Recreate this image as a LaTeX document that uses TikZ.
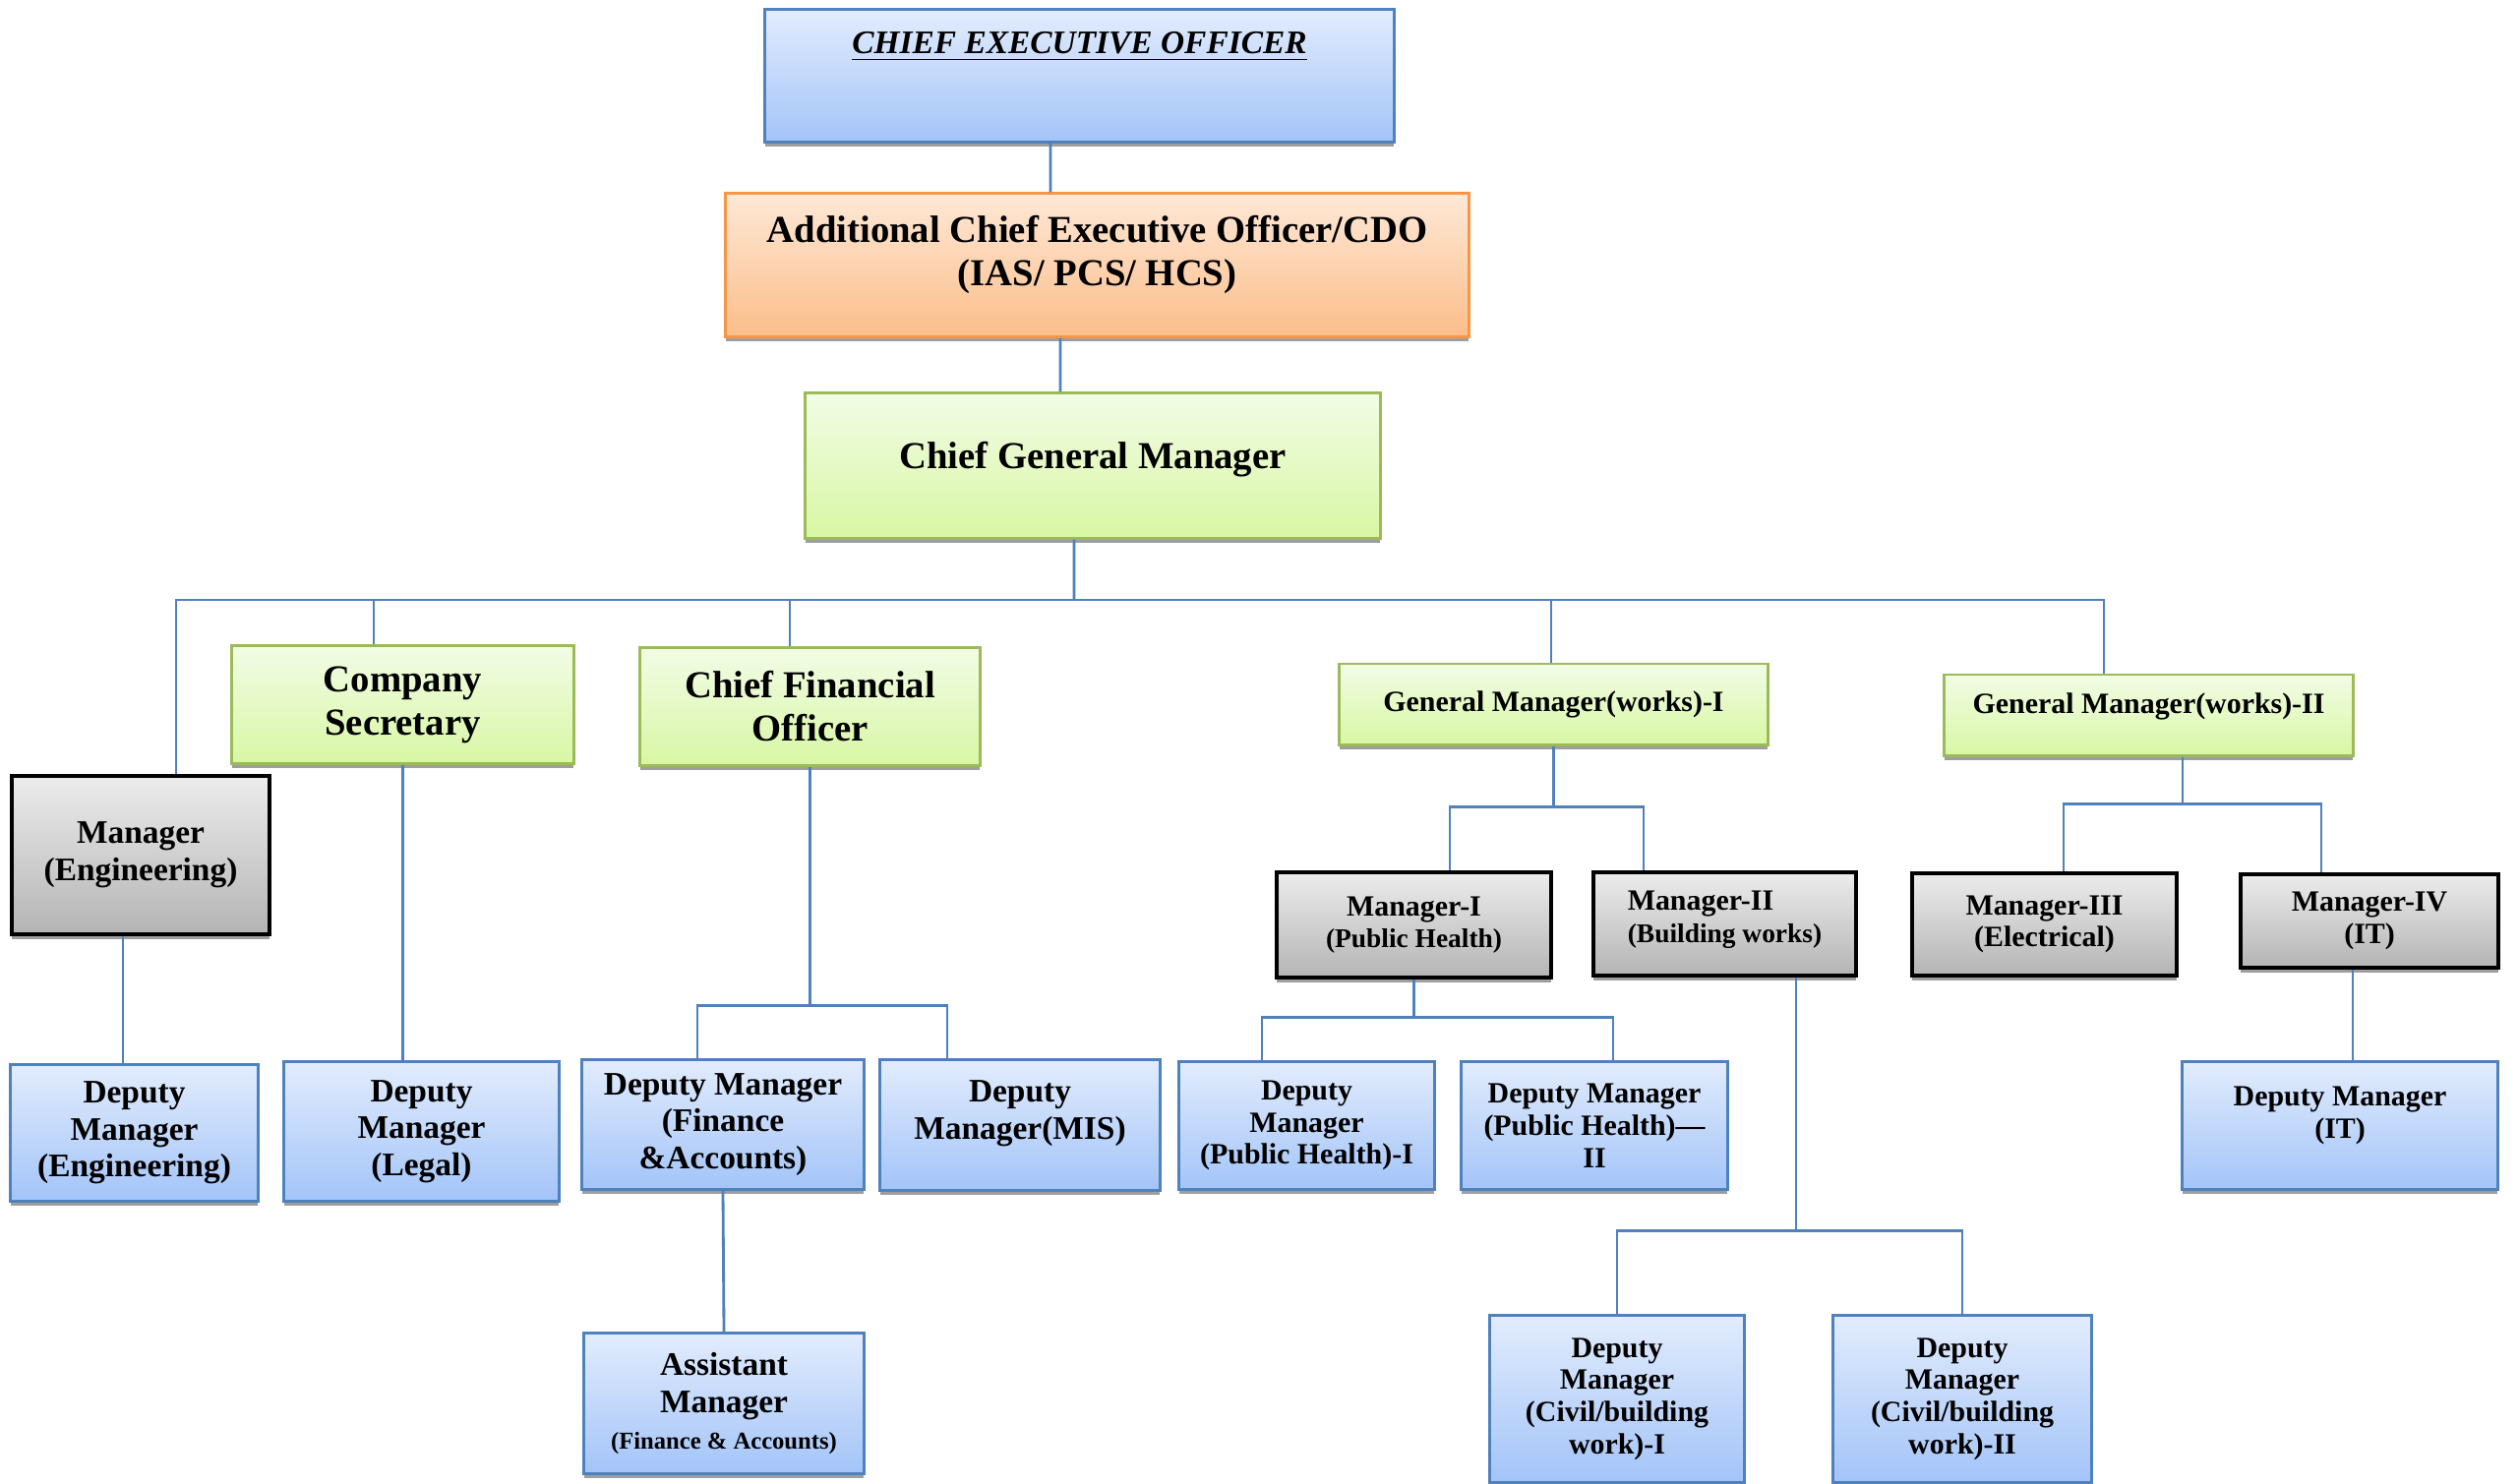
\documentclass[tikz,border=0pt]{standalone}
\usepackage{fontspec}
\setmainfont{Liberation Serif}
\usetikzlibrary{shadows}

\definecolor{linkblue}{RGB}{79, 129, 189}
\definecolor{blueedge}{RGB}{79, 129, 189}
\definecolor{bluetop}{RGB}{226, 236, 253}
\definecolor{bluebot}{RGB}{163, 196, 248}
\definecolor{greenedge}{RGB}{155, 187, 89}
\definecolor{greentop}{RGB}{242, 252, 230}
\definecolor{greenbot}{RGB}{216, 247, 164}
\definecolor{orangeedge}{RGB}{247, 150, 70}
\definecolor{orangetop}{RGB}{254, 232, 214}
\definecolor{orangebot}{RGB}{251, 190, 138}
\definecolor{greytop}{RGB}{236, 236, 236}
\definecolor{greybot}{RGB}{180, 180, 180}

\tikzset{
  post/.style={line width=0.85pt, inner xsep=2pt, inner ysep=0pt, align=center,
    drop shadow={shadow xshift=0pt, shadow yshift=-1.3pt, fill=black!38, opacity=1}},
  bluepost/.style={post, draw=blueedge, top color=bluetop, bottom color=bluebot},
  greenpost/.style={post, draw=greenedge, top color=greentop, bottom color=greenbot},
  orangepost/.style={post, draw=orangeedge, top color=orangetop, bottom color=orangebot},
  greypost/.style={post, draw=black, line width=1.2pt, top color=greytop, bottom color=greybot},
  bigtxt/.style={font=\fontsize{11}{12.5}\selectfont\bfseries},
  midtxt/.style={font=\fontsize{9.5}{10.7}\selectfont\bfseries},
  smalltxt/.style={font=\fontsize{8.5}{9.3}\selectfont\bfseries},
  link/.style={draw=linkblue, line width=0.8pt}
}

\begin{document}
\begin{tikzpicture}[x=0.01cm, y=-0.01cm]
  \path[use as bounding box, fill=white] (0,0) rectangle (2561,1508);

  % Top of the chart
  \node[bluepost, minimum width=6.39cm, text height=0.45cm, text depth=0.89cm,
    font=\fontsize{9.5}{11}\selectfont\bfseries\itshape] (ceo) at (1097.5,77) {\underline{CHIEF EXECUTIVE OFFICER}};
  \node[orangepost, bigtxt, minimum width=7.55cm, text height=0.93cm, text depth=0.52cm] (aceo) at (1115.5,269.5) {Additional Chief Executive Officer/CDO\\(IAS/ PCS/ HCS)};
  \node[greenpost, bigtxt, minimum width=5.84cm, text height=0.76cm, text depth=0.71cm] (cgm) at (1111,473.5) {Chief General Manager};

  % Heads under the Chief General Manager
  \node[greypost, midtxt, minimum width=2.62cm, minimum height=1.61cm] (mgreng) at (143,869.5) {Manager\\(Engineering)};
  \node[greenpost, bigtxt, minimum width=3.47cm, minimum height=1.19cm] (cs) at (409.5,716.5) {Company\\Secretary};
  \node[greenpost, bigtxt, minimum width=3.45cm, minimum height=1.19cm] (cfo) at (823.5,718.5) {Chief Financial\\Officer};
  \node[greenpost, smalltxt, minimum width=4.35cm, minimum height=0.82cm] (gm1) at (1579.5,716) {General Manager(works)-I};
  \node[greenpost, smalltxt, minimum width=4.15cm, text height=0.39cm, text depth=0.43cm] (gm2) at (2184.5,727) {General Manager(works)-II};

  % Managers of the works
  \node[greypost, smalltxt, minimum width=2.79cm, minimum height=1.07cm] (mgr1) at (1437.5,940.5) {Manager-I\\{\fontsize{7.8}{9}\selectfont (Public Health)}};
  \node[greypost, smalltxt, align=left, minimum width=2.67cm, text height=0.71cm, text depth=0.34cm] (mgr2) at (1753.5,939.5) {Manager-II\\{\fontsize{7.8}{9}\selectfont (Building works)}};
  \node[greypost, smalltxt, minimum width=2.69cm, minimum height=1.04cm] (mgr3) at (2078.5,940) {Manager-III\\(Electrical)};
  \node[greypost, smalltxt, minimum width=2.62cm, minimum height=0.95cm] (mgr4) at (2409,936.5) {Manager-IV\\(IT)};

  % Deputy managers
  \node[bluepost, midtxt, minimum width=2.51cm, minimum height=1.38cm] (dmeng) at (136.5,1152) {Deputy\\Manager\\(Engineering)};
  \node[bluepost, midtxt, minimum width=2.79cm, minimum height=1.41cm] (dmlegal) at (428.5,1150.5) {Deputy\\Manager\\(Legal)};
  \node[bluepost, midtxt, minimum width=2.86cm, minimum height=1.31cm] (dmfin) at (735,1143.5) {Deputy Manager\\(Finance\\\&Accounts)};
  \node[bluepost, midtxt, minimum width=2.84cm, text height=0.80cm, text depth=0.52cm] (dmmis) at (1037,1144) {Deputy\\Manager(MIS)};
  \node[bluepost, midtxt, minimum width=2.84cm, minimum height=1.42cm] (asst) at (736,1427) {Assistant\\Manager\\{\fontsize{7}{8}\selectfont (Finance \& Accounts)}};
  \node[bluepost, smalltxt, minimum width=2.59cm, minimum height=1.29cm] (dmph1) at (1328.5,1144.5) {Deputy\\Manager\\(Public Health)-I};
  \node[bluepost, smalltxt, minimum width=2.70cm, minimum height=1.29cm] (dmph2) at (1621,1144.5) {Deputy Manager\\(Public Health)—\\II};
  \node[bluepost, smalltxt, minimum width=2.58cm, minimum height=1.69cm] (dmcv1) at (1644,1422.5) {Deputy\\Manager\\(Civil/building\\work)-I};
  \node[bluepost, smalltxt, minimum width=2.62cm, minimum height=1.69cm] (dmcv2) at (1995,1422.5) {Deputy\\Manager\\(Civil/building\\work)-II};
  \node[bluepost, smalltxt, minimum width=3.20cm, text height=0.77cm, text depth=0.52cm] (dmit) at (2379,1144.5) {Deputy Manager\\(IT)};

  % Main line
  \coordinate (bus) at (1092,610);
  \draw[link] ([xshift=-0.295cm]ceo.south) -- ([xshift=-0.475cm]aceo.north);
  \draw[link] ([xshift=-0.375cm]aceo.south) -- ([xshift=-0.33cm]cgm.north);
  \draw[link] ([xshift=-0.19cm]cgm.south) -- (bus);
  \draw[link] ([xshift=0.36cm]mgreng.north) |- (bus);
  \draw[link] ([xshift=-0.295cm]cs.north) |- (bus);
  \draw[link] ([xshift=-0.205cm]cfo.north) |- (bus);
  \draw[link] ([xshift=-0.025cm]gm1.north) |- (bus);
  \draw[link] ([xshift=-0.455cm]gm2.north) |- (bus);

  % Engineering, legal, finance
  \draw[link] ([xshift=-0.18cm]mgreng.south) coordinate (mes) -- (mes |- dmeng.north);
  \draw[link] (cs.south) -- (cs.south |- dmlegal.north);
  \draw[link] (cfo.south) -- ++(0,243) coordinate (finbus);
  \draw[link] ([xshift=-0.26cm]dmfin.north) |- (finbus) -| ([xshift=-0.74cm]dmmis.north);
  \draw[link] (dmfin.south) -- (asst.north);

  % Works
  \draw[link] (gm1.south) -- ++(0,62) coordinate (gm1bus);
  \draw[link] ([xshift=0.365cm]mgr1.north) |- (gm1bus) -| ([xshift=-0.825cm]mgr2.north);
  \draw[link] (mgr1.south) -- ++(0,38) coordinate (mgr1bus);
  \draw[link] ([xshift=-0.455cm]dmph1.north) |- (mgr1bus) -| ([xshift=0.19cm]dmph2.north);
  \draw[link] ([xshift=0.725cm]mgr2.south) -- ++(0,257) coordinate (mgr2bus);
  \draw[link] (dmcv1.north) |- (mgr2bus) -| (dmcv2.north);
  \draw[link] ([xshift=0.345cm]gm2.south) -- ++(0,48) coordinate (gm2bus);
  \draw[link] ([xshift=0.195cm]mgr3.north) |- (gm2bus) -| ([xshift=-0.49cm]mgr4.north);
  \draw[link] ([xshift=-0.17cm]mgr4.south) coordinate (m4s) -- (m4s |- dmit.north);
\end{tikzpicture}
\end{document}
